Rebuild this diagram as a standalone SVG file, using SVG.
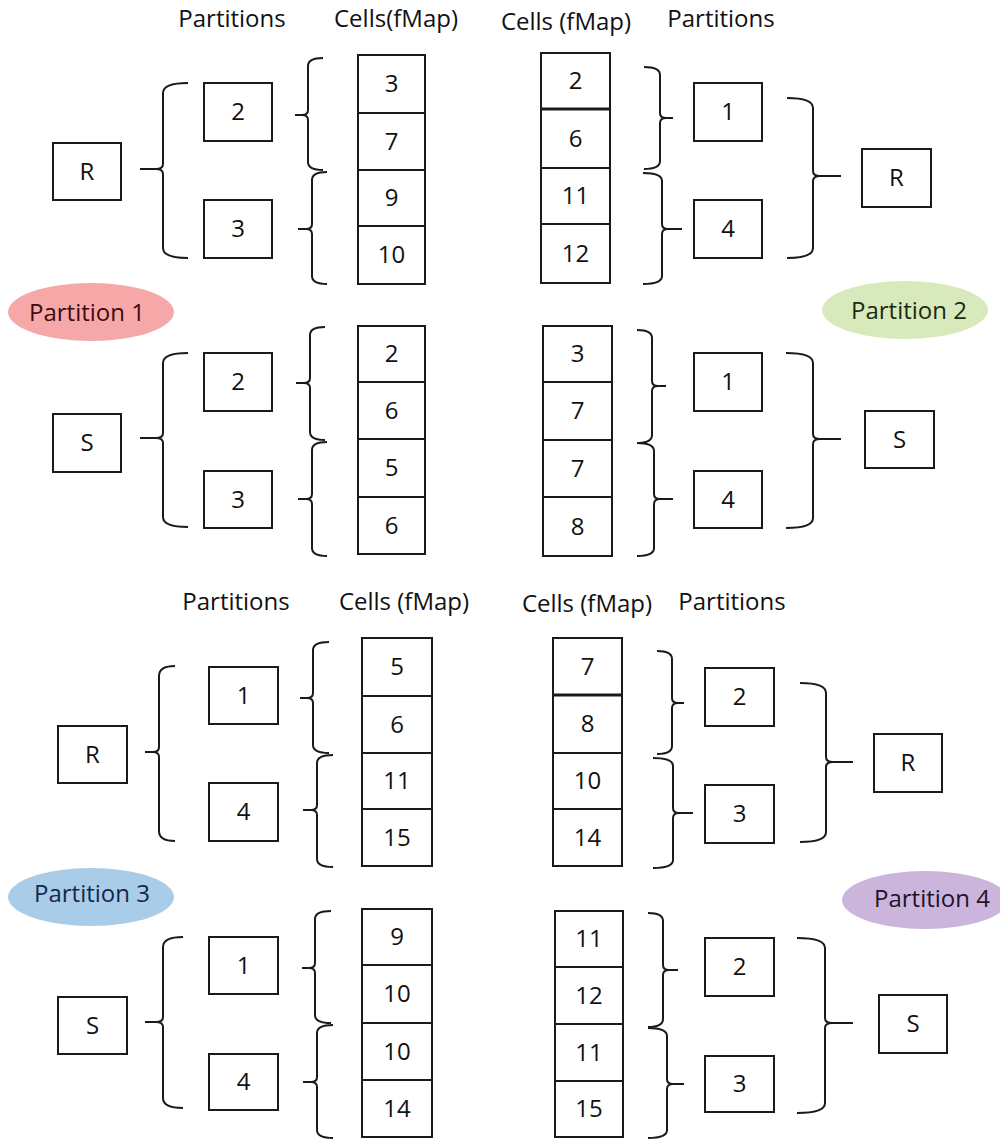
<svg xmlns="http://www.w3.org/2000/svg" width="1000" height="1139" viewBox="0 0 1000 1139">
<style>
.t{font-family:"Open Sans","Liberation Sans",sans-serif;font-size:24px;fill:#111;text-anchor:middle}
.b{fill:#fff;stroke:#1a1a1a;stroke-width:2}
.c{fill:#fff;stroke:#1a1a1a;stroke-width:2}
.br{fill:none;stroke:#1a1a1a;stroke-width:2}
.thick{stroke:#1a1a1a;stroke-width:3}
</style>
<rect width="1000" height="1139" fill="#fff"/>

<g id="headers">
<text class="t" x="232" y="27">Partitions</text>
<text class="t" x="396" y="27">Cells(fMap)</text>
<text class="t" x="566" y="30">Cells (fMap)</text>
<text class="t" x="721" y="27">Partitions</text>
<text class="t" x="236" y="610">Partitions</text>
<text class="t" x="404" y="610">Cells (fMap)</text>
<text class="t" x="587" y="612">Cells (fMap)</text>
<text class="t" x="732" y="610">Partitions</text>
</g>

<g id="partition-labels">
<g id="p1"><ellipse cx="91" cy="312" rx="83" ry="29" fill="#f6a8a8"/><text class="t" x="87" y="321" style="fill:#3d0a10">Partition 1</text></g>
<g id="p2"><ellipse cx="905" cy="310" rx="83" ry="29" fill="#d8eabb"/><text class="t" x="909" y="319" style="fill:#1c2a12">Partition 2</text></g>
<g id="p3"><ellipse cx="91" cy="897" rx="83" ry="29" fill="#a9cde8"/><text class="t" x="92" y="902" style="fill:#13294b">Partition 3</text></g>
<g id="p4"><ellipse cx="925" cy="900" rx="83" ry="29" fill="#cbb5dd"/><text class="t" x="932" y="907" style="fill:#1e1428">Partition 4</text></g>
</g>

<!-- Section 1: top-left R -->
<g id="s1-R"><rect class="b" x="53" y="143" width="68" height="57"/><text class="t" x="87" y="180">R</text></g>
<g id="s1-p2"><rect class="b" x="204" y="83" width="68" height="58"/><text class="t" x="238" y="120">2</text></g>
<g id="s1-p3"><rect class="b" x="204" y="200" width="68" height="58"/><text class="t" x="238" y="237">3</text></g>
<g id="s1-cells">
<rect class="c" x="358" y="55" width="67" height="229"/>
<line class="thick" style="stroke-width:2" x1="358" y1="113" x2="425" y2="113"/>
<line class="thick" style="stroke-width:2" x1="358" y1="170" x2="425" y2="170"/>
<line class="thick" style="stroke-width:2" x1="358" y1="226" x2="425" y2="226"/>
<text class="t" x="391.5" y="92">3</text><text class="t" x="391.5" y="150">7</text><text class="t" x="391.5" y="206">9</text><text class="t" x="391.5" y="263">10</text>
</g>

<!-- Section 2: top-right R -->
<g id="s2-cells">
<rect class="c" x="541" y="53" width="69" height="230"/>
<line class="thick" x1="541" y1="109" x2="610" y2="109"/>
<line class="thick" style="stroke-width:2" x1="541" y1="168" x2="610" y2="168"/>
<line class="thick" style="stroke-width:2" x1="541" y1="224" x2="610" y2="224"/>
<text class="t" x="575.5" y="89">2</text><text class="t" x="575.5" y="147">6</text><text class="t" x="575.5" y="204">11</text><text class="t" x="575.5" y="262">12</text>
</g>
<g id="s2-p1"><rect class="b" x="694" y="83" width="68" height="58"/><text class="t" x="728" y="120">1</text></g>
<g id="s2-p4"><rect class="b" x="694" y="200" width="68" height="58"/><text class="t" x="728" y="237">4</text></g>
<g id="s2-R"><rect class="b" x="862" y="149" width="69" height="58"/><text class="t" x="896.5" y="186">R</text></g>

<!-- Section 3: left S -->
<g id="s3-S"><rect class="b" x="53" y="414" width="68" height="58"/><text class="t" x="87" y="451">S</text></g>
<g id="s3-p2"><rect class="b" x="204" y="353" width="68" height="58"/><text class="t" x="238" y="390">2</text></g>
<g id="s3-p3"><rect class="b" x="204" y="471" width="68" height="57"/><text class="t" x="238" y="508">3</text></g>
<g id="s3-cells">
<rect class="c" x="358" y="326" width="67" height="228"/>
<line class="thick" style="stroke-width:2" x1="358" y1="382" x2="425" y2="382"/>
<line class="thick" style="stroke-width:2" x1="358" y1="439" x2="425" y2="439"/>
<line class="thick" style="stroke-width:2" x1="358" y1="497" x2="425" y2="497"/>
<text class="t" x="391.5" y="362">2</text><text class="t" x="391.5" y="419">6</text><text class="t" x="391.5" y="476">5</text><text class="t" x="391.5" y="534">6</text>
</g>

<!-- Section 4: right S -->
<g id="s4-cells">
<rect class="c" x="543" y="326" width="69" height="230"/>
<line class="thick" style="stroke-width:2" x1="543" y1="382" x2="612" y2="382"/>
<line class="thick" style="stroke-width:2" x1="543" y1="440" x2="612" y2="440"/>
<line class="thick" style="stroke-width:2" x1="543" y1="497" x2="612" y2="497"/>
<text class="t" x="577.5" y="362">3</text><text class="t" x="577.5" y="419">7</text><text class="t" x="577.5" y="477">7</text><text class="t" x="577.5" y="535">8</text>
</g>
<g id="s4-p1"><rect class="b" x="694" y="353" width="68" height="58"/><text class="t" x="728" y="390">1</text></g>
<g id="s4-p4"><rect class="b" x="694" y="471" width="68" height="57"/><text class="t" x="728" y="508">4</text></g>
<g id="s4-S"><rect class="b" x="865" y="411" width="69" height="57"/><text class="t" x="899.5" y="448">S</text></g>

<!-- Section 5: bottom-left R -->
<g id="s5-R"><rect class="b" x="58" y="726" width="69" height="57"/><text class="t" x="92.5" y="763">R</text></g>
<g id="s5-p1"><rect class="b" x="209" y="667" width="69" height="57"/><text class="t" x="243.5" y="704">1</text></g>
<g id="s5-p4"><rect class="b" x="209" y="783" width="69" height="58"/><text class="t" x="243.5" y="820">4</text></g>
<g id="s5-cells">
<rect class="c" x="362" y="638" width="70" height="228"/>
<line class="thick" style="stroke-width:2" x1="362" y1="696" x2="432" y2="696"/>
<line class="thick" style="stroke-width:2" x1="362" y1="753" x2="432" y2="753"/>
<line class="thick" style="stroke-width:2" x1="362" y1="809" x2="432" y2="809"/>
<text class="t" x="397" y="675">5</text><text class="t" x="397" y="733">6</text><text class="t" x="397" y="789">11</text><text class="t" x="397" y="846">15</text>
</g>

<!-- Section 6: bottom-right R -->
<g id="s6-cells">
<rect class="c" x="553" y="638" width="69" height="228"/>
<line class="thick" x1="553" y1="695" x2="622" y2="695"/>
<line class="thick" style="stroke-width:2" x1="553" y1="753" x2="622" y2="753"/>
<line class="thick" style="stroke-width:2" x1="553" y1="809" x2="622" y2="809"/>
<text class="t" x="587.5" y="675">7</text><text class="t" x="587.5" y="732">8</text><text class="t" x="587.5" y="789">10</text><text class="t" x="587.5" y="846">14</text>
</g>
<g id="s6-p2"><rect class="b" x="705" y="668" width="69" height="58"/><text class="t" x="739.5" y="705">2</text></g>
<g id="s6-p3"><rect class="b" x="705" y="785" width="69" height="58"/><text class="t" x="739.5" y="822">3</text></g>
<g id="s6-R"><rect class="b" x="874" y="734" width="68" height="58"/><text class="t" x="908" y="771">R</text></g>

<!-- Section 7: bottom-left S -->
<g id="s7-S"><rect class="b" x="58" y="997" width="69" height="57"/><text class="t" x="92.5" y="1034">S</text></g>
<g id="s7-p1"><rect class="b" x="209" y="937" width="69" height="57"/><text class="t" x="243.5" y="974">1</text></g>
<g id="s7-p4"><rect class="b" x="209" y="1054" width="69" height="56"/><text class="t" x="243.5" y="1090">4</text></g>
<g id="s7-cells">
<rect class="c" x="362" y="909" width="70" height="228"/>
<line class="thick" style="stroke-width:2" x1="362" y1="965" x2="432" y2="965"/>
<line class="thick" style="stroke-width:2" x1="362" y1="1023" x2="432" y2="1023"/>
<line class="thick" style="stroke-width:2" x1="362" y1="1080" x2="432" y2="1080"/>
<text class="t" x="397" y="945">9</text><text class="t" x="397" y="1002">10</text><text class="t" x="397" y="1060">10</text><text class="t" x="397" y="1117">14</text>
</g>

<!-- Section 8: bottom-right S -->
<g id="s8-cells">
<rect class="c" x="555" y="911" width="68" height="226"/>
<line class="thick" style="stroke-width:2" x1="555" y1="967" x2="623" y2="967"/>
<line class="thick" style="stroke-width:2" x1="555" y1="1024" x2="623" y2="1024"/>
<line class="thick" style="stroke-width:2" x1="555" y1="1081" x2="623" y2="1081"/>
<text class="t" x="589" y="947">11</text><text class="t" x="589" y="1004">12</text><text class="t" x="589" y="1061">11</text><text class="t" x="589" y="1117">15</text>
</g>
<g id="s8-p2"><rect class="b" x="705" y="938" width="69" height="58"/><text class="t" x="739.5" y="975">2</text></g>
<g id="s8-p3"><rect class="b" x="705" y="1056" width="69" height="56"/><text class="t" x="739.5" y="1092">3</text></g>
<g id="s8-S"><rect class="b" x="879" y="995" width="68" height="58"/><text class="t" x="913" y="1032">S</text></g>

<g id="connectors" class="br">
<!-- Section 1 -->
<path d="M188 83 Q163 83 163 93 V164 Q163 169 156 169 H140 M156 169 Q163 169 163 174 V248 Q163 258 188 258"/>
<path d="M323 58 Q308 58 308 66 V110 Q308 115 302 115 H295 M302 115 Q308 115 308 120 V162 Q308 170 323 170"/>
<path d="M327 172 Q312 172 312 180 V224 Q312 229 306 229 H298 M306 229 Q312 229 312 234 V276 Q312 284 327 284"/>
<!-- Section 2 -->
<path d="M644 67 Q660 67 660 75 V113 Q660 118 666 118 H673 M666 118 Q660 118 660 123 V161 Q660 169 644 169"/>
<path d="M643 173 Q662 173 662 181 V224 Q662 229 668 229 H682 M668 229 Q662 229 662 234 V276 Q662 284 643 284"/>
<path d="M787 98 Q813 98 813 108 V171 Q813 176 820 176 H841 M820 176 Q813 176 813 181 V248 Q813 258 787 258"/>
<!-- Section 3 -->
<path d="M188 353 Q163 353 163 363 V433 Q163 438 156 438 H140 M156 438 Q163 438 163 443 V517 Q163 527 188 527"/>
<path d="M325 327 Q310 327 310 335 V378 Q310 383 304 383 H296 M304 383 Q310 383 310 388 V432 Q310 440 325 440"/>
<path d="M327 442 Q312 442 312 450 V494 Q312 499 306 499 H298 M306 499 Q312 499 312 504 V548 Q312 556 327 556"/>
<!-- Section 4 -->
<path d="M637 330 Q652 330 652 338 V381 Q652 386 658 386 H666 M658 386 Q652 386 652 391 V435 Q652 443 637 443"/>
<path d="M637 443 Q654 443 654 451 V494 Q654 499 660 499 H673 M660 499 Q654 499 654 504 V548 Q654 556 637 556"/>
<path d="M786 353 Q813 353 813 363 V434 Q813 439 820 439 H841 M820 439 Q813 439 813 444 V518 Q813 528 786 528"/>
<!-- Section 5 -->
<path d="M175 666 Q159 666 159 676 V747 Q159 752 153 752 H145 M153 752 Q159 752 159 757 V831 Q159 841 175 841"/>
<path d="M329 642 Q313 642 313 650 V693 Q313 698 307 698 H300 M307 698 Q313 698 313 703 V745 Q313 753 329 753"/>
<path d="M333 755 Q317 755 317 763 V805 Q317 810 311 810 H303 M311 810 Q317 810 317 815 V859 Q317 867 333 867"/>
<!-- Section 6 -->
<path d="M657 651 Q672 651 672 659 V698 Q672 703 678 703 H684 M678 703 Q672 703 672 708 V746 Q672 754 657 754"/>
<path d="M653 758 Q673 758 673 766 V808 Q673 813 679 813 H693 M679 813 Q673 813 673 818 V860 Q673 868 653 868"/>
<path d="M800 683 Q826 683 826 693 V757 Q826 762 833 762 H853 M833 762 Q826 762 826 767 V832 Q826 842 800 842"/>
<!-- Section 7 -->
<path d="M183 937 Q163 937 163 947 V1017 Q163 1022 156 1022 H145 M156 1022 Q163 1022 163 1027 V1098 Q163 1108 183 1108"/>
<path d="M331 911 Q315 911 315 919 V963 Q315 968 309 968 H302 M309 968 Q315 968 315 973 V1015 Q315 1023 331 1023"/>
<path d="M333 1025 Q317 1025 317 1033 V1077 Q317 1082 311 1082 H303 M311 1082 Q317 1082 317 1087 V1130 Q317 1138 333 1138"/>
<!-- Section 8 -->
<path d="M648 913 Q663 913 663 921 V965 Q663 970 669 970 H678 M669 970 Q663 970 663 975 V1019 Q663 1027 648 1027"/>
<path d="M648 1028 Q667 1028 667 1036 V1079 Q667 1084 673 1084 H684 M673 1084 Q667 1084 667 1089 V1130 Q667 1138 648 1138"/>
<path d="M797 938 Q825 938 825 948 V1018 Q825 1023 832 1023 H853 M832 1023 Q825 1023 825 1028 V1103 Q825 1113 797 1113"/>
</g>
</svg>
